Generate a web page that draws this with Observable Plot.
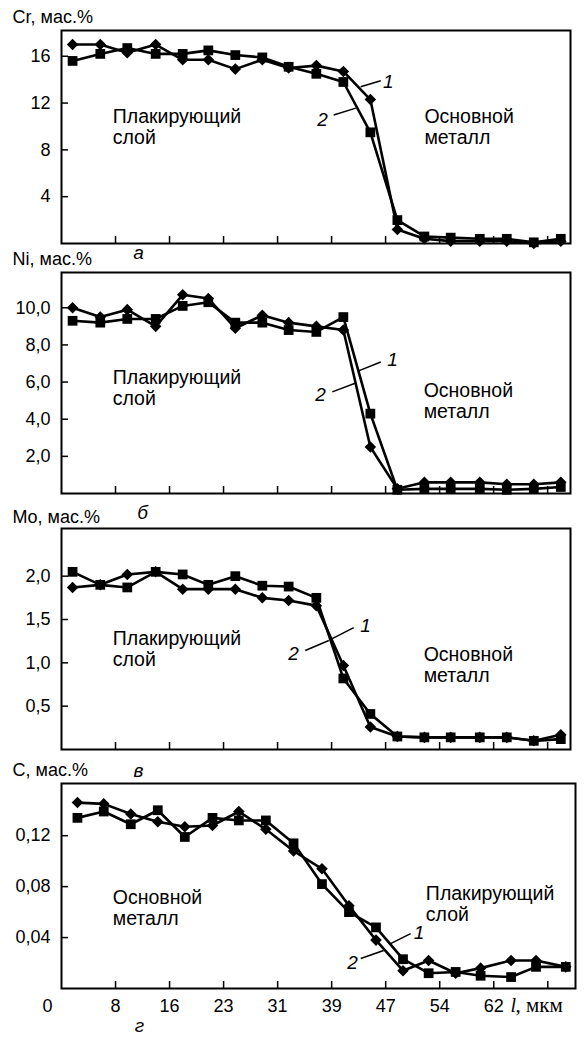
<!DOCTYPE html>
<html><head><meta charset="utf-8">
<script src="https://cdn.jsdelivr.net/npm/d3@7"></script>
<script src="https://cdn.jsdelivr.net/npm/@observablehq/plot@0.6"></script>
<style>
body{margin:0;background:#fff;}
#wrap{position:relative;width:585px;height:1037px;overflow:hidden;background:#fff;}
#wrap svg{position:absolute;left:0;overflow:visible;}
</style></head><body><div id="wrap"></div>
<script>
// distance, µm (panels а–в and panel г)
const xDist = [1.6,5.6,9.5,13.6,17.5,21.2,25.1,29.0,32.8,36.8,40.7,44.6,48.5,52.4,56.2,60.4,64.3,68.2,72.1];
const xDistC = [2.3,6.1,10.0,13.9,17.8,21.8,25.6,29.5,33.5,37.6,41.5,45.4,49.3,53.0,56.9,60.5,64.9,68.5,72.8];
// x ticks
const xTickValues = [7.8,15.6,23.4,31.2,39.0,46.8,54.6,62.4,70.2];
const xTickLabels = ["8","16","23","31","39","47","54","62",""];

// Cr, mass %
const cr1 = [17.0,17.0,16.3,17.0,15.7,15.7,14.9,15.7,15.0,15.2,14.7,12.3,1.2,0.4,0.2,0.2,0.2,0.0,0.2];
const cr2 = [15.6,16.2,16.7,16.2,16.2,16.5,16.1,15.9,15.1,14.5,13.8,9.5,2.0,0.6,0.5,0.4,0.4,0.1,0.4];
const crTicks = [4,8,12,16];
const crTickLabels = ["4","8","12","16"];

// Ni, mass %
const ni1 = [10.0,9.5,9.9,9.0,10.7,10.5,8.9,9.6,9.2,9.0,8.8,2.5,0.25,0.6,0.6,0.6,0.5,0.5,0.6];
const ni2 = [9.3,9.2,9.4,9.4,10.1,10.3,9.2,9.2,8.8,8.7,9.5,4.3,0.2,0.25,0.25,0.25,0.2,0.25,0.35];
const niTicks = [2,4,6,8,10];
const niTickLabels = ["2,0","4,0","6,0","8,0","10,0"];

// Mo, mass %
const mo1 = [1.87,1.90,2.02,2.05,1.85,1.85,1.85,1.75,1.72,1.66,0.97,0.26,0.15,0.14,0.14,0.14,0.14,0.10,0.17];
const mo2 = [2.05,1.90,1.87,2.05,2.02,1.90,2.00,1.89,1.88,1.75,0.82,0.41,0.15,0.14,0.14,0.14,0.14,0.10,0.12];
const moTicks = [0.5,1.0,1.5,2.0];
const moTickLabels = ["0,5","1,0","1,5","2,0"];

// C, mass %
const c1 = [0.146,0.145,0.137,0.131,0.127,0.128,0.139,0.125,0.108,0.094,0.065,0.038,0.014,0.022,0.012,0.016,0.022,0.022,0.017];
const c2 = [0.134,0.139,0.129,0.140,0.119,0.134,0.132,0.132,0.114,0.082,0.060,0.048,0.023,0.012,0.013,0.010,0.009,0.017,0.017];
const cTicks = [0.04,0.08,0.12];
const cTickLabels = ["0,04","0,08","0,12"];

const FONT = "'Liberation Sans', Arial, Helvetica, sans-serif";
const SERIF = "'Liberation Serif', 'Times New Roman', serif";
const wrap = document.getElementById("wrap");

function panel(cfg) {
  const rows = [
    ...cfg.x.map((x, i) => ({x, y: cfg.s1[i], s: "1"})),
    ...cfg.x.map((x, i) => ({x, y: cfg.s2[i], s: "2"}))
  ];
  const frameH = cfg.height - cfg.mt - cfg.mb;
  const frameW = 585 - 61 - cfg.mr;
  const marks = [
    Plot.ruleY(cfg.yTicks, {y: d => d, insetRight: frameW - 7, strokeWidth: 1.5}),
    Plot.ruleX(xTickValues, {x: d => d, insetTop: frameH - 7, strokeWidth: 1.5}),
    Plot.axisY({ticks: cfg.yTicks, tickSize: 0, tickPadding: 11, fontSize: 18, label: null,
      tickFormat: d => cfg.yTickLabels[cfg.yTicks.indexOf(d)]}),
    Plot.frame({strokeWidth: 2}),
    Plot.line(rows, {x: "x", y: "y", z: "s", stroke: "black", strokeWidth: 2.6}),
    Plot.dot(rows.filter(d => d.s === "2"), {x: "x", y: "y", symbol: "square", r: 5.5, fill: "black"}),
    Plot.dot(rows.filter(d => d.s === "1"), {x: "x", y: "y", symbol: "diamond2", r: 5.2, fill: "black"}),
    Plot.text([cfg.title], {frameAnchor: "top-left", textAnchor: "start", lineAnchor: "middle", dx: -49, dy: cfg.titleDy, fontSize: 18, text: d => d}),
    Plot.text([cfg.letter], {frameAnchor: "bottom-left", textAnchor: "middle", lineAnchor: "middle", dx: cfg.letterDx, dy: cfg.letterDy, fontSize: 19, fontStyle: "italic", text: d => d}),
    Plot.text(cfg.notes, {x: "x", y: "y", text: "text", textAnchor: "start", lineAnchor: "middle", fontSize: 19.5, lineHeight: 1.08}),
    Plot.link(cfg.leaders, {x1: "x1", y1: "y1", x2: "x2", y2: "y2", stroke: "black", strokeWidth: 1.5}),
    Plot.text(cfg.nums, {x: "x", y: "y", text: "text", fontSize: 19, fontStyle: "italic"})
  ];
  if (cfg.showX) {
    marks.push(
      Plot.axisX({ticks: xTickValues, tickSize: 0, tickPadding: 11, fontSize: 18, label: null,
        tickFormat: d => xTickLabels[xTickValues.indexOf(d)]}),
      Plot.text(["0"], {x: () => 0, frameAnchor: "bottom", lineAnchor: "top", dy: 11, dx: -14, fontSize: 18, text: d => d}),
      Plot.text(["l"], {frameAnchor: "bottom-right", textAnchor: "start", lineAnchor: "top", dx: -65, dy: 9, fontSize: 20, fontStyle: "italic", fontFamily: SERIF, text: d => d}),
      Plot.text([", мкм"], {frameAnchor: "bottom-right", textAnchor: "start", lineAnchor: "top", dx: -60, dy: 9, fontSize: 21, fontFamily: SERIF, text: d => d})
    );
  }
  const svg = Plot.plot({
    width: 585,
    height: cfg.height,
    marginTop: cfg.mt,
    marginBottom: cfg.mb,
    marginLeft: 61,
    marginRight: cfg.mr,
    style: {fontFamily: FONT, background: "transparent", color: "black"},
    x: {domain: [0, cfg.xMax], axis: null},
    y: {domain: [0, cfg.yMax], axis: null},
    marks
  });
  svg.style.top = cfg.top + "px";
  wrap.appendChild(svg);
}

panel({
  top: 0, height: 262, mt: 30, mb: 19, mr: 15, xMax: 73.5, yMax: 18.2,
  x: xDist, s1: cr1, s2: cr2, yTicks: crTicks, yTickLabels: crTickLabels,
  title: "Cr, мас.%", titleDy: -13, letter: "а", letterDx: 77, letterDy: 9,
  notes: [{x: 7.4, y: 10.0, text: "Плакирующий\nслой"}, {x: 52.4, y: 10.0, text: "Основной\nметалл"}],
  nums: [{x: 47.2, y: 13.8, text: "1"}, {x: 37.7, y: 10.55, text: "2"}],
  leaders: [{x1: 43.2, y1: 13.4, x2: 46.1, y2: 13.9}, {x1: 39.3, y1: 10.98, x2: 42.5, y2: 11.57}],
  showX: false
});

panel({
  top: 245, height: 265, mt: 27, mb: 17, mr: 15, xMax: 73.5, yMax: 11.9,
  x: xDist, s1: ni1, s2: ni2, yTicks: niTicks, yTickLabels: niTickLabels,
  title: "Ni, мас.%", titleDy: -13, letter: "б", letterDx: 81, letterDy: 19,
  notes: [{x: 7.4, y: 5.7, text: "Плакирующий\nслой"}, {x: 52.3, y: 5.0, text: "Основной\nметалл"}],
  nums: [{x: 47.8, y: 7.18, text: "1"}, {x: 37.4, y: 5.31, text: "2"}],
  leaders: [{x1: 42.9, y1: 6.60, x2: 46.1, y2: 7.08}, {x1: 39.1, y1: 5.47, x2: 42.5, y2: 5.95}],
  showX: false
});

panel({
  top: 500, height: 265, mt: 28, mb: 16, mr: 15, xMax: 73.5, yMax: 2.55,
  x: xDist, s1: mo1, s2: mo2, yTicks: moTicks, yTickLabels: moTickLabels,
  title: "Mo, мас.%", titleDy: -11, letter: "в", letterDx: 77, letterDy: 21,
  notes: [{x: 7.4, y: 1.165, text: "Плакирующий\nслой"}, {x: 52.3, y: 0.98, text: "Основной\nметалл"}],
  nums: [{x: 43.9, y: 1.43, text: "1"}, {x: 33.5, y: 1.107, text: "2"}],
  leaders: [{x1: 39.1, y1: 1.28, x2: 42.2, y2: 1.407}, {x1: 35.2, y1: 1.142, x2: 38.6, y2: 1.257}],
  showX: false
});

panel({
  top: 755, height: 282, mt: 28, mb: 49, mr: 10, xMax: 74.2, yMax: 0.161,
  x: xDistC, s1: c1, s2: c2, yTicks: cTicks, yTickLabels: cTickLabels,
  title: "C, мас.%", titleDy: -13, letter: "г", letterDx: 78, letterDy: 37,
  notes: [{x: 7.4, y: 0.0635, text: "Основной\nметалл"}, {x: 52.6, y: 0.0667, text: "Плакирующий\nслой"}],
  nums: [{x: 51.6, y: 0.0439, text: "1"}, {x: 42.0, y: 0.0204, text: "2"}],
  leaders: [{x1: 47.5, y1: 0.0353, x2: 50.4, y2: 0.0431}, {x1: 43.2, y1: 0.0235, x2: 46.5, y2: 0.0298}],
  showX: true
});
</script>
</body></html>
